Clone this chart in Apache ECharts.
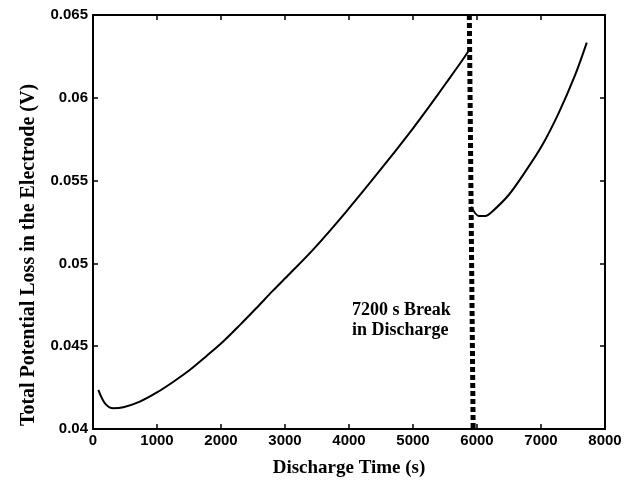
<!DOCTYPE html>
<html>
<head>
<meta charset="utf-8">
<script src="https://cdn.jsdelivr.net/npm/echarts@6/dist/echarts.min.js"></script>
<style>
  html, body { margin: 0; padding: 0; background: #fff; }
  #chart { width: 635px; height: 484px; }
</style>
</head>
<body>
<div id="chart"></div>
<script>
// discharge before the break
const timeBefore = [83, 187, 317, 473, 732, 992, 1251, 1511, 1771, 2030, 2290, 2550, 2808, 3069, 3432, 3951, 4470, 4989, 5249, 5509, 5768, 5880];
const lossBefore = [0.04236, 0.04155, 0.04125, 0.04131, 0.04165, 0.04219, 0.04284, 0.04356, 0.04440, 0.04527, 0.04626, 0.04729, 0.04834, 0.04936, 0.05080, 0.05310, 0.05555, 0.05810, 0.05945, 0.06085, 0.06225, 0.06290];

// discharge after the 7200 s break
const timeAfter = [5910, 6028, 6132, 6235, 6495, 6755, 7014, 7274, 7534, 7715];
const lossAfter = [0.05343, 0.05286, 0.05286, 0.05312, 0.05413, 0.05554, 0.05710, 0.05906, 0.06138, 0.06333];

// dotted marker for the break
const breakTime = [5880, 5940];
const breakLoss = [0.065, 0.04];

const xTicks = [0, 1000, 2000, 3000, 4000, 5000, 6000, 7000, 8000];
const yTicks = [0.04, 0.045, 0.05, 0.055, 0.06, 0.065];

const pairs = (xs, ys) => xs.map((x, i) => [x, ys[i]]);

const sansLabel = { color: '#000', fontFamily: 'Liberation Sans', fontWeight: 'bold', fontSize: 15 };
const serifTitle = { color: '#000', fontFamily: 'Liberation Serif', fontWeight: 'bold', fontSize: 19 };
const axisLine = { show: true, onZero: false, lineStyle: { color: '#000', width: 2 } };
const axisTick = { show: true, inside: true, length: 5, lineStyle: { color: '#000', width: 1.5 } };

const chart = echarts.init(document.getElementById('chart'));
chart.setOption({
  animation: false,
  backgroundColor: '#fff',
  grid: { left: 93, right: 30, top: 15, bottom: 55 },
  xAxis: [{
    type: 'value',
    min: xTicks[0], max: xTicks[xTicks.length - 1], interval: 1000,
    axisLine: axisLine, axisTick: axisTick,
    splitLine: { show: false },
    axisLabel: Object.assign({ margin: 4, formatter: v => String(v) }, sansLabel),
    name: 'Discharge Time (s)',
    nameLocation: 'middle', nameGap: 30,
    nameTextStyle: serifTitle
  }, {
    type: 'value', position: 'top',
    min: xTicks[0], max: xTicks[xTicks.length - 1], interval: 1000,
    axisLine: axisLine, axisTick: axisTick,
    splitLine: { show: false }, axisLabel: { show: false }
  }],
  yAxis: [{
    type: 'value',
    min: yTicks[0], max: yTicks[yTicks.length - 1], interval: 0.005,
    axisLine: axisLine, axisTick: axisTick,
    splitLine: { show: false },
    axisLabel: Object.assign({
      margin: 5,
      formatter: v => String(parseFloat(v.toFixed(3)))
    }, sansLabel),
    name: 'Total Potential Loss in the Electrode (V)',
    nameLocation: 'middle', nameGap: 54,
    nameTextStyle: Object.assign({}, serifTitle, { fontSize: 20, padding: [0, 66, 0, 0] })
  }, {
    type: 'value', position: 'right',
    min: yTicks[0], max: yTicks[yTicks.length - 1], interval: 0.005,
    axisLine: axisLine, axisTick: axisTick,
    splitLine: { show: false }, axisLabel: { show: false }
  }],
  series: [{
    type: 'line',
    data: pairs(timeBefore, lossBefore),
    smooth: 0.3, showSymbol: false,
    lineStyle: { color: '#000', width: 2 }
  }, {
    type: 'line',
    data: pairs(timeAfter, lossAfter),
    smooth: 0.3, showSymbol: false,
    lineStyle: { color: '#000', width: 2 }
  }, {
    type: 'line',
    data: pairs(breakTime, breakLoss),
    showSymbol: false,
    lineStyle: { color: '#000', width: 5, type: [5, 3] }
  }],
  graphic: [{
    type: 'text',
    left: 352, top: 300,
    style: {
      text: '7200 s Break\nin Discharge',
      font: 'bold 18px "Liberation Serif"',
      fill: '#000',
      lineHeight: 20
    }
  }]
});
</script>
</body>
</html>
